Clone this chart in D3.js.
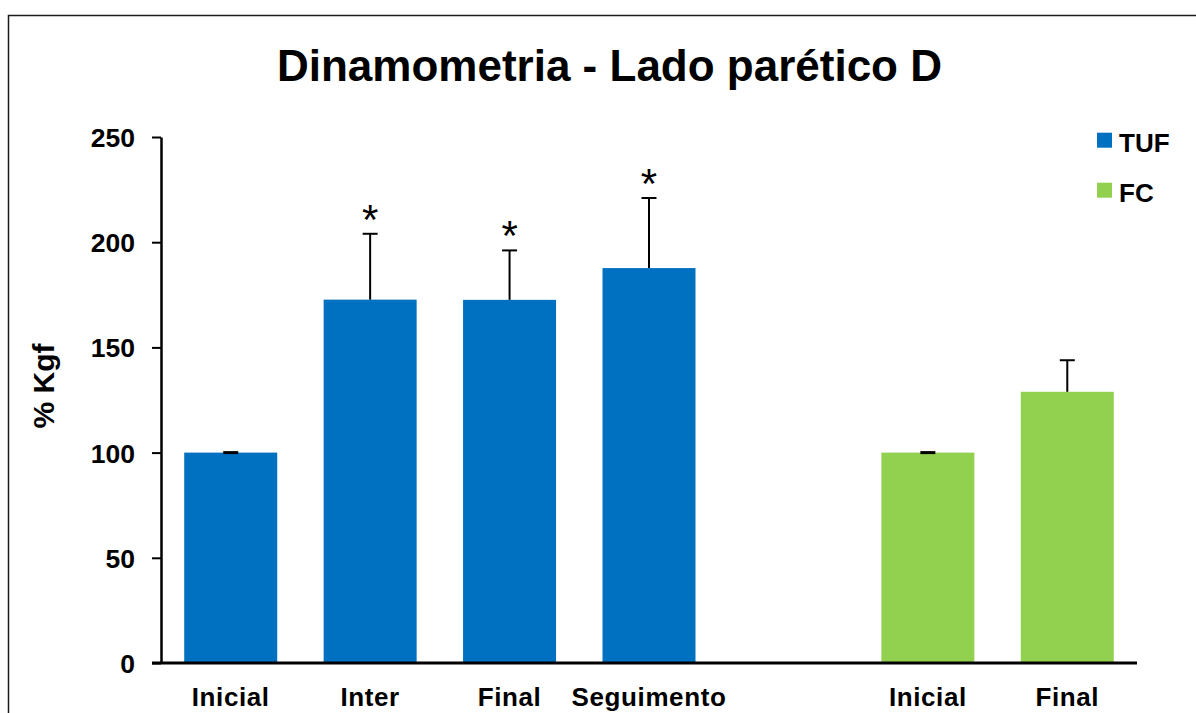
<!DOCTYPE html>
<html>
<head>
<meta charset="utf-8">
<script src="https://cdn.jsdelivr.net/npm/d3@7"></script>
<style>
  html, body { margin: 0; padding: 0; background: #fff; }
  svg { display: block; }
  text { font-family: "Liberation Sans", Arial, sans-serif; font-weight: bold; fill: #000; }
</style>
</head>
<body>
<svg id="chart" width="1196" height="713"></svg>
<script>
// Grip strength relative to baseline (% Kgf), paretic side
const slots = ["TUF-Inicial", "TUF-Inter", "TUF-Final", "TUF-Seguimento", "gap", "FC-Inicial", "FC-Final"];
const slotLabels = ["Inicial", "Inter", "Final", "Seguimento", "", "Inicial", "Final"];

const tufCategories = ["TUF-Inicial", "TUF-Inter", "TUF-Final", "TUF-Seguimento"];
const tufValues = [100, 172.7, 172.6, 187.7];
const tufErrors = [0, 31.3, 23.5, 33.3];
const tufSignificant = [false, true, true, true];

const fcCategories = ["FC-Inicial", "FC-Final"];
const fcValues = [100, 128.9];
const fcErrors = [0, 15];
const fcSignificant = [false, false];

const yTicks = [0, 50, 100, 150, 200, 250];
const seriesNames = ["TUF", "FC"];
const seriesColors = ["#0070C0", "#92D050"];

const titleText = "Dinamometria - Lado parético D";
const yAxisTitle = "% Kgf";

const svg = d3.select("#chart");

// outer frame
svg.append("rect")
  .attr("x", 8.5).attr("y", 15.5)
  .attr("width", 1300).attr("height", 900)
  .attr("fill", "none").attr("stroke", "#1a1a1a").attr("stroke-width", 1.5);

const plot = { left: 161, right: 1137, top: 137, bottom: 663 };

const x = d3.scaleBand().domain(slots).range([plot.left, plot.right]).padding(0);
const y = d3.scaleLinear().domain([0, 250]).range([plot.bottom, plot.top]);
const barW = x.bandwidth() * 0.667;

const rows = [];
tufCategories.forEach((c, i) => rows.push({ key: c, value: tufValues[i], err: tufErrors[i], sig: tufSignificant[i], color: seriesColors[0] }));
fcCategories.forEach((c, i) => rows.push({ key: c, value: fcValues[i], err: fcErrors[i], sig: fcSignificant[i], color: seriesColors[1] }));

// bars
svg.append("g").selectAll("rect").data(rows).join("rect")
  .attr("x", d => x(d.key) + (x.bandwidth() - barW) / 2)
  .attr("y", d => y(d.value))
  .attr("width", barW)
  .attr("height", d => y(0) - y(d.value))
  .attr("fill", d => d.color);

// error bars (upper side only)
const eb = svg.append("g").attr("stroke", "#000");
eb.selectAll("line.stem").data(rows.filter(d => d.err > 0)).join("line")
  .attr("class", "stem")
  .attr("x1", d => x(d.key) + x.bandwidth() / 2)
  .attr("x2", d => x(d.key) + x.bandwidth() / 2)
  .attr("y1", d => y(d.value))
  .attr("y2", d => y(d.value + d.err))
  .attr("stroke-width", 2);
eb.selectAll("line.cap").data(rows).join("line")
  .attr("class", "cap")
  .attr("x1", d => x(d.key) + x.bandwidth() / 2 - 7.5)
  .attr("x2", d => x(d.key) + x.bandwidth() / 2 + 7.5)
  .attr("y1", d => y(d.value + d.err))
  .attr("y2", d => y(d.value + d.err))
  .attr("stroke-width", d => d.err > 0 ? 2 : 3);

// significance markers
svg.append("g").selectAll("text").data(rows.filter(d => d.sig)).join("text")
  .attr("x", d => x(d.key) + x.bandwidth() / 2)
  .attr("y", d => y(d.value + d.err) - 22)
  .attr("dy", "0.52em")
  .attr("text-anchor", "middle")
  .style("font-weight", "normal")
  .style("font-size", "42px")
  .text("*");

// y axis
const yAxis = svg.append("g")
  .attr("transform", `translate(${plot.left},0)`)
  .call(d3.axisLeft(y).tickValues(yTicks).tickSize(9).tickSizeOuter(0).tickPadding(17));
yAxis.select(".domain").attr("stroke", "#000").attr("stroke-width", 2.5);
yAxis.selectAll(".tick line").attr("stroke", "#000").attr("stroke-width", 2);
yAxis.selectAll(".tick text")
  .attr("dy", "0.36em")
  .style("font-family", "'Liberation Sans', Arial, sans-serif")
  .style("font-weight", "bold")
  .style("font-size", "26.5px")
  .attr("fill", "#000");

// x axis baseline
svg.append("line")
  .attr("x1", plot.left - 9).attr("x2", plot.right)
  .attr("y1", y(0)).attr("y2", y(0))
  .attr("stroke", "#000").attr("stroke-width", 3);

// category labels
svg.append("g").selectAll("text").data(slots).join("text")
  .attr("x", d => x(d) + x.bandwidth() / 2)
  .attr("y", 706)
  .attr("text-anchor", "middle")
  .style("font-size", "26px")
  .style("letter-spacing", "0.6px")
  .text((d, i) => slotLabels[i]);

// title
svg.append("text")
  .attr("x", 609.5).attr("y", 81)
  .attr("text-anchor", "middle")
  .style("font-size", "44px")
  .text(titleText);

// y axis title
svg.append("text")
  .attr("transform", "translate(54,386) rotate(-90)")
  .attr("text-anchor", "middle")
  .style("font-size", "30px")
  .text(yAxisTitle);

// legend
const legend = svg.append("g").selectAll("g").data(seriesNames).join("g")
  .attr("transform", (d, i) => `translate(1097,${132.7 + i * 50})`);
legend.append("rect").attr("width", 15).attr("height", 15)
  .attr("fill", (d, i) => seriesColors[i]);
legend.append("text").attr("x", 22).attr("y", 19.5)
  .style("font-size", "26px")
  .text(d => d);
</script>
</body>
</html>
